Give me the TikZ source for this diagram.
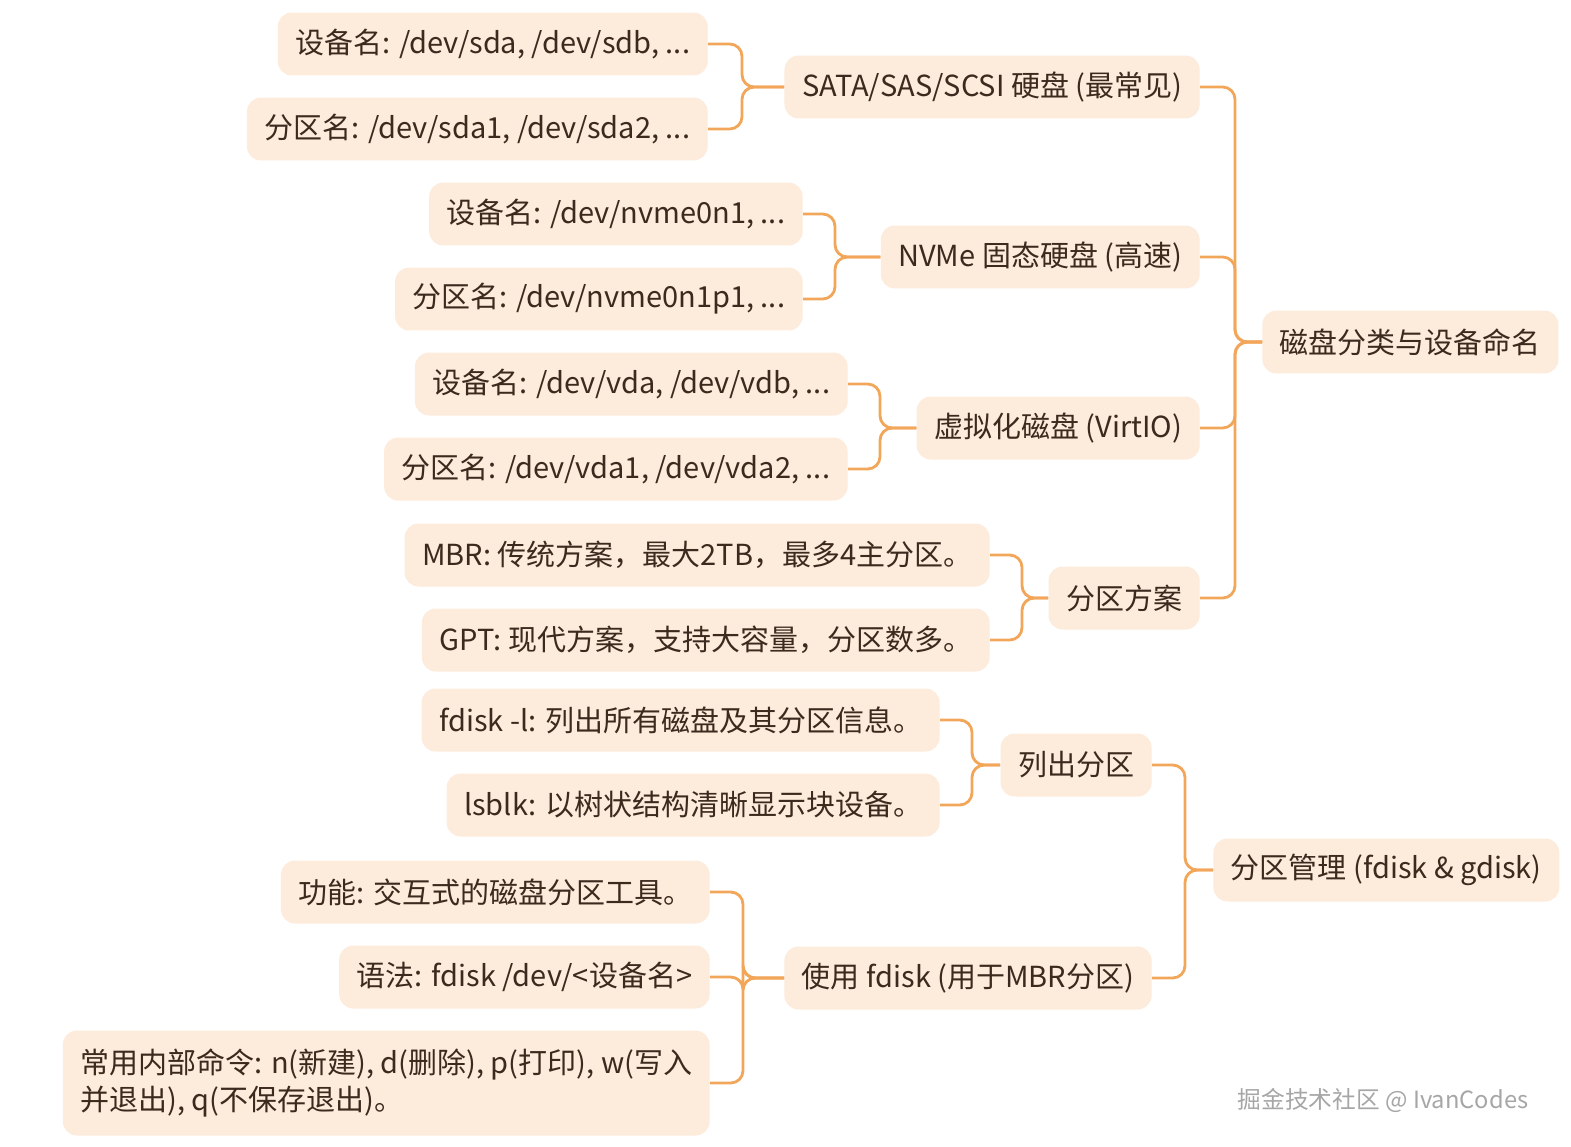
\documentclass[tikz,border=0pt]{standalone}
\usepackage{fontspec}
\setmainfont{Noto Sans CJK SC}
\definecolor{nf}{HTML}{FDEBDC}
\definecolor{ln}{HTML}{F2A65A}
\definecolor{tx}{HTML}{3B2A1E}
\begin{document}
\begin{tikzpicture}[x=0.02cm,y=-0.02cm,
 box/.style={fill=nf,rounded corners=8pt,text=tx,minimum height=1.26cm,inner xsep=10pt,font=\fontsize{16.5}{21}\selectfont,anchor=east},
 link/.style={draw=ln,line width=1.6pt,rounded corners=7pt}]
\useasboundingbox (0,0) rectangle (1571,1146);
\node[box,anchor=west] (r1) at (1262,342) {磁盘分类与设备命名};
\node[box] (sata) at (1200,87) {SATA/SAS/SCSI 硬盘 (最常见)};
\node[box] (nvme) at (1200,257) {NVMe 固态硬盘 (高速)};
\node[box] (virt) at (1200,428) {虚拟化磁盘 (VirtIO)};
\node[box] (fa) at (1200,598) {分区方案};
\node[box] (a1) at (708,44) {设备名: /dev/sda, /dev/sdb, ...};
\node[box] (a2) at (708,129) {分区名: /dev/sda1, /dev/sda2, ...};
\node[box] (b1) at (803,214) {设备名: /dev/nvme0n1, ...};
\node[box] (b2) at (803,299) {分区名: /dev/nvme0n1p1, ...};
\node[box] (c1) at (848,384) {设备名: /dev/vda, /dev/vdb, ...};
\node[box] (c2) at (848,469) {分区名: /dev/vda1, /dev/vda2, ...};
\node[box] (d1) at (990,555) {MBR: 传统方案，最大2TB，最多4主分区。};
\node[box] (d2) at (990,640) {GPT: 现代方案，支持大容量，分区数多。};
\node[box,anchor=west] (r2) at (1213,870) {分区管理 (fdisk \& gdisk)};
\node[box] (ls) at (1152,765) {列出分区};
\node[box] (uf) at (1152,978) {使用 fdisk (用于MBR分区)};
\node[box] (e1) at (940,720) {fdisk -l: 列出所有磁盘及其分区信息。};
\node[box] (e2) at (940,805) {lsblk: 以树状结构清晰显示块设备。};
\node[box] (f1) at (710,892) {功能: 交互式的磁盘分区工具。};
\node[box] (f2) at (710,977) {语法: fdisk /dev/<设备名>};
\node[box,minimum height=2.1cm,align=left] (f3) at (710,1083) {常用内部命令: n(新建), d(删除), p(打印), w(写入\\并退出), q(不保存退出)。};
\node[text=gray!70,font=\fontsize{13.5}{15}\selectfont] (wm) at (1383,1100) {掘金技术社区 @ IvanCodes};
\foreach \p/\bx/\cs in {r1/1235/{sata,nvme,virt,fa},r2/1185/{ls,uf},sata/742/{a1,a2},nvme/835/{b1,b2},virt/880/{c1,c2},fa/1022/{d1,d2},ls/972/{e1,e2},uf/743/{f1,f2,f3}}{
 \foreach \c in \cs { \draw[link] (\c.east) -| (\bx,0 |- \p.west) -- (\p.west); }
}
\end{tikzpicture}
\end{document}
